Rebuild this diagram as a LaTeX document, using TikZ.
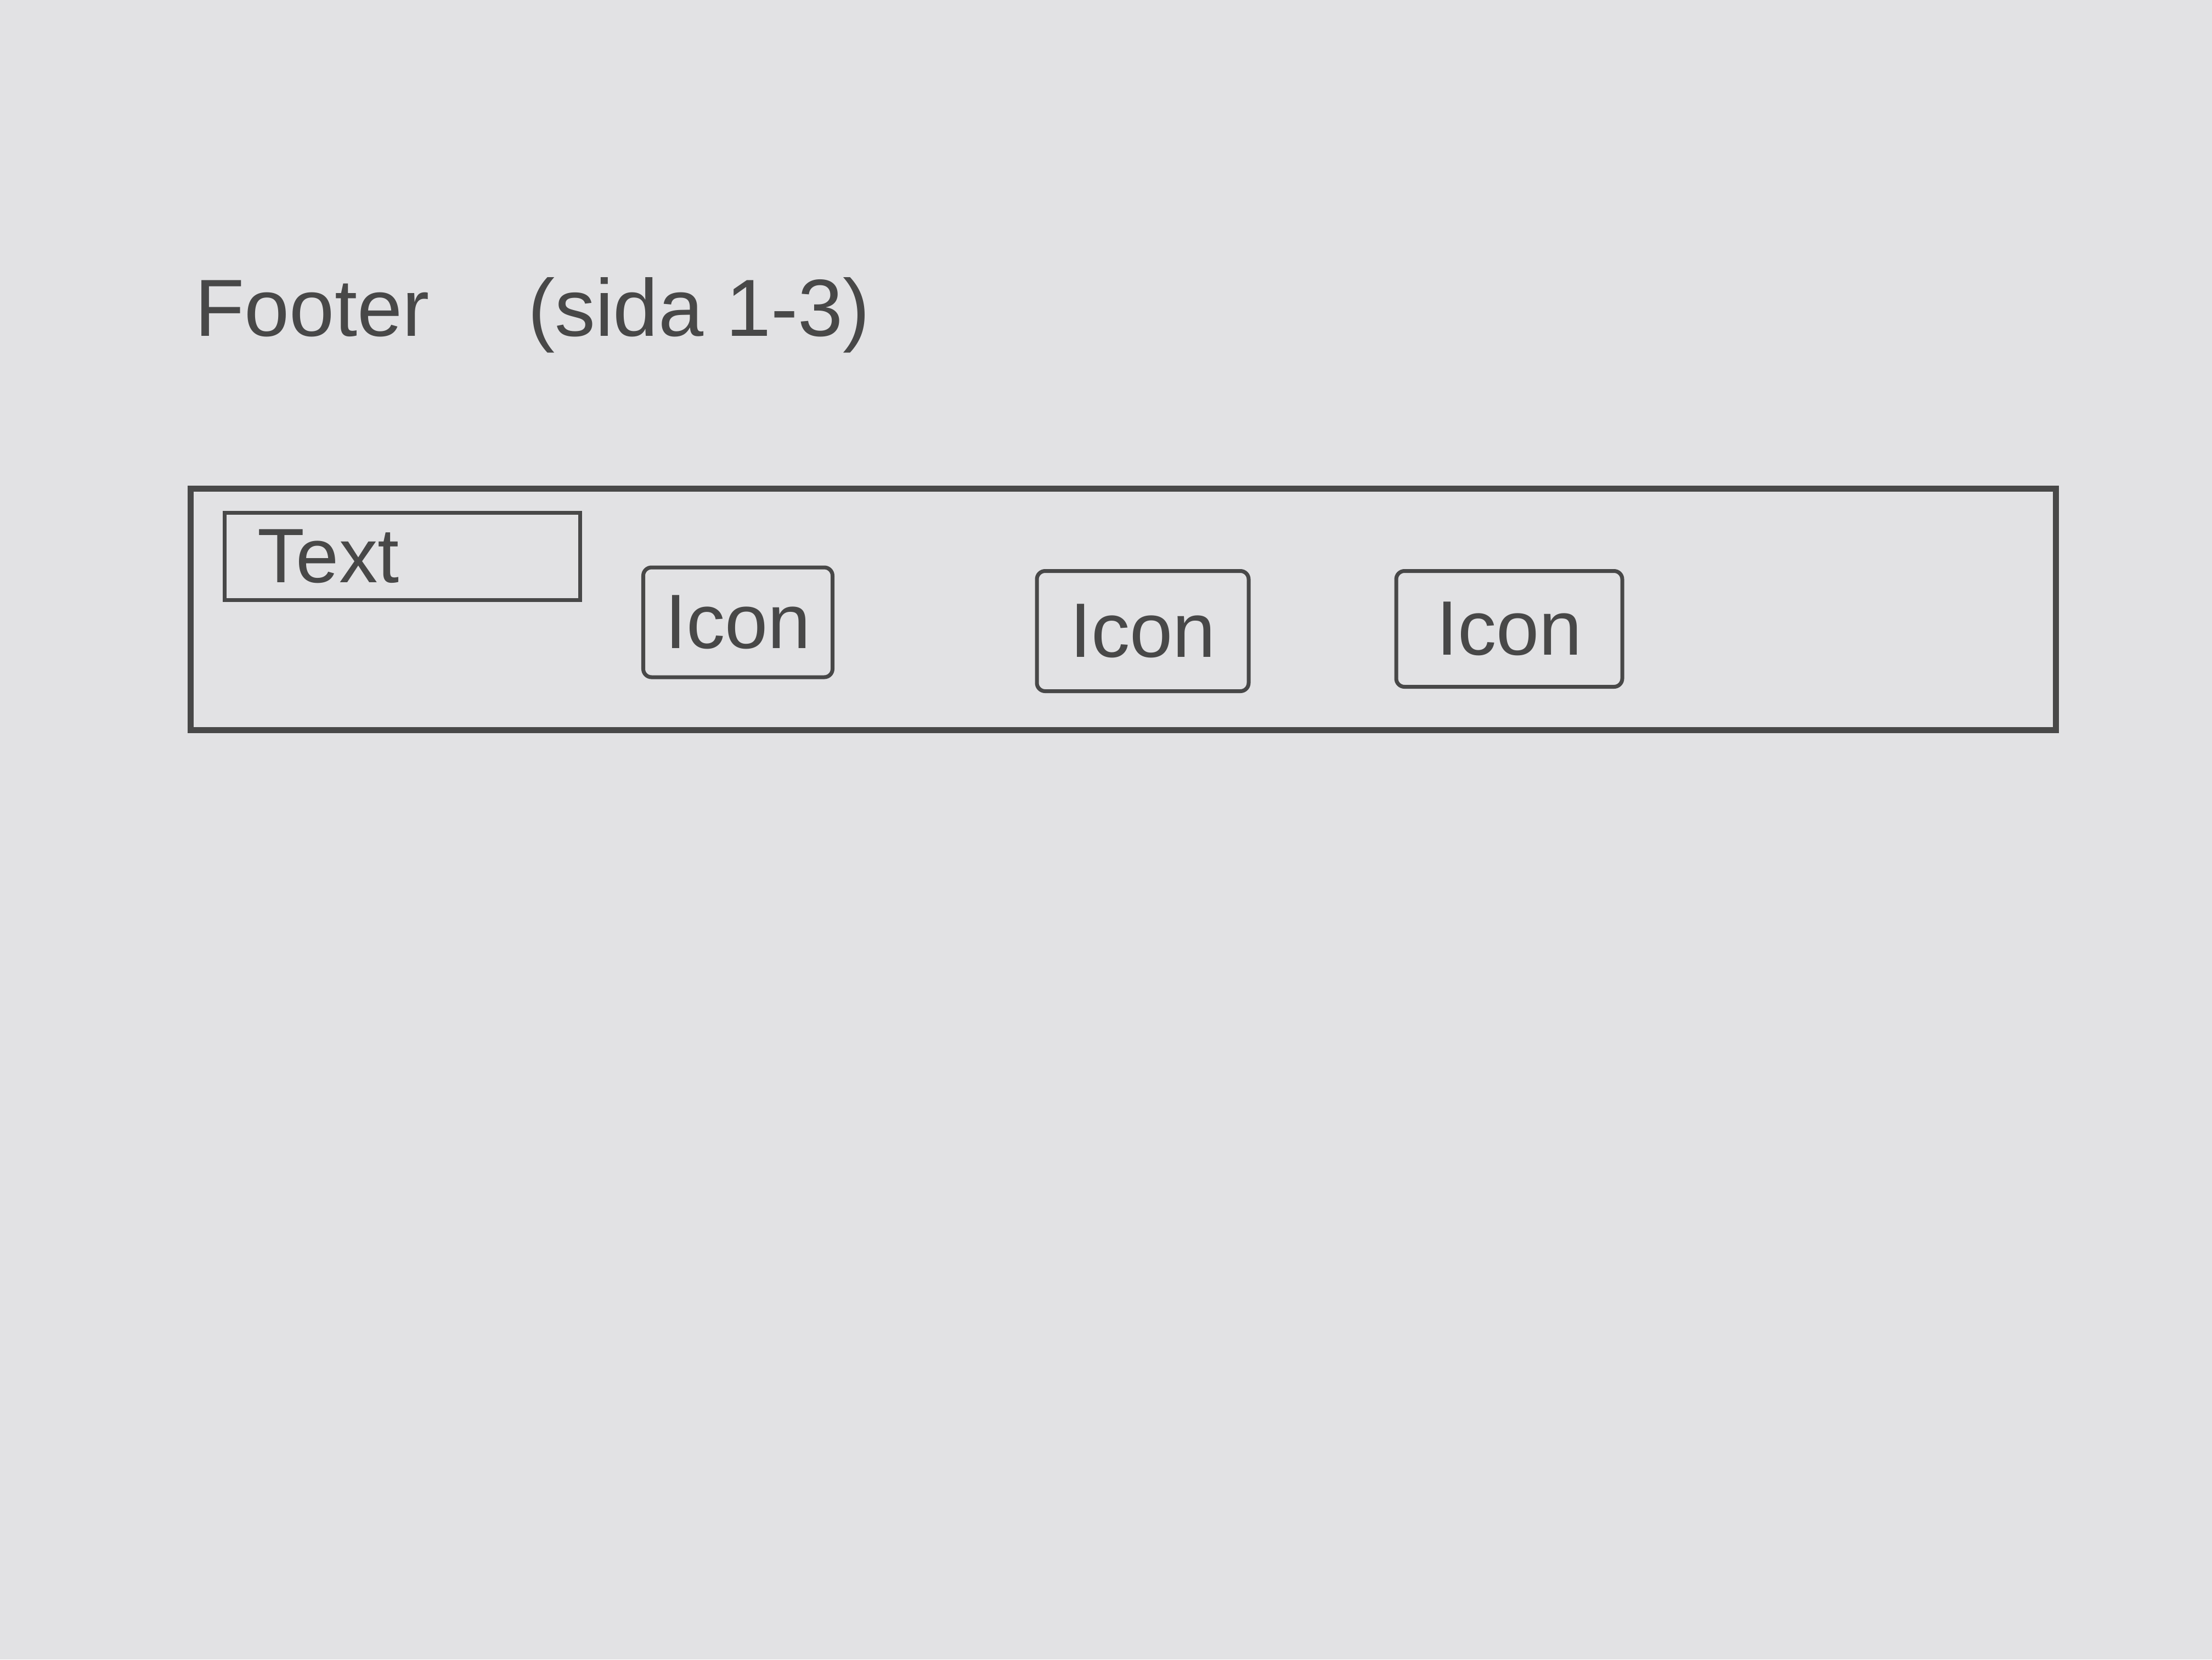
\documentclass[tikz,border=0pt]{standalone}
\usepackage{fontspec}
\setmainfont{Liberation Sans}
\definecolor{pencil}{RGB}{72,72,72}
\definecolor{paper}{RGB}{226,226,228}
\begin{document}
\begin{tikzpicture}[x=1cm,y=-1cm,
  box/.style={draw=pencil, line width=2pt, rectangle, inner sep=0pt},
  iconbox/.style={box, rounded corners=0.15cm, text=pencil, font=\fontsize{40}{48}\selectfont},
  lbl/.style={text=pencil, font=\fontsize{42}{50}\selectfont, inner sep=0pt}]
\fill[paper] (0,0) rectangle (40.32,30.24);
\useasboundingbox (0,0) rectangle (40.32,30.24);
% title
\node[lbl, anchor=base west] (title) at (3.55,6.12) {Footer\hspace{1.8cm}(sida 1-3)};
% footer frame
\node[box, line width=3pt, minimum width=34.0cm, minimum height=4.4cm, anchor=north west] (footer) at (3.42,8.85) {};
% text box
\node[box, anchor=north west, minimum height=1.59cm, text width=5.28cm, inner xsep=0.6cm, align=left,
      text=pencil, font=\fontsize{40}{48}\selectfont] (textbox) at (4.06,9.31) {Text};
% icons
\node[iconbox, minimum width=3.45cm, minimum height=2.0cm] (icon1) at (13.45,11.34) {Icon};
\node[iconbox, minimum width=3.86cm, minimum height=2.19cm] (icon2) at (20.83,11.50) {Icon};
\node[iconbox, minimum width=4.12cm, minimum height=2.11cm] (icon3) at (27.51,11.46) {Icon};
\end{tikzpicture}
\end{document}
